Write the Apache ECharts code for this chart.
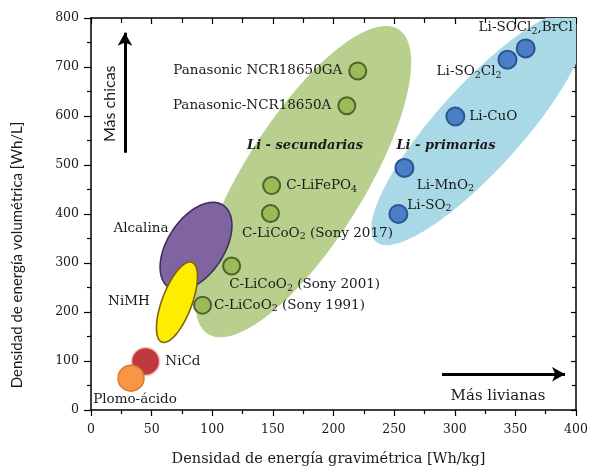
<!DOCTYPE html>
<html>
<head>
<meta charset="utf-8">
<script src="https://cdn.jsdelivr.net/npm/echarts@6/dist/echarts.min.js"></script>
<style>html,body{margin:0;padding:0;background:#fff}#chart{width:592px;height:472px}</style>
</head>
<body>
<div id="chart"></div>
<script>
// ---- data ----
const secNames = ['Panasonic NCR18650GA', 'Panasonic-NCR18650A', 'C-LiFePO{s|4}', 'C-LiCoO{s|2} (Sony 2017)', 'C-LiCoO{s|2} (Sony 2001)', 'C-LiCoO{s|2} (Sony 1991)'];
const secX = [220, 211, 149, 148, 116, 92];
const secY = [692, 621, 458, 401, 294, 214];

const primNames = ['Li-SOCl{s|2},BrCl', 'Li-SO{s|2}Cl{s|2}', 'Li-CuO', 'Li-MnO{s|2}', 'Li-SO{s|2}'];
const primX = [358.5, 343.5, 300.5, 258.5, 253.5];
const primY = [738, 715, 599, 494, 400];

const otherNames = ['NiCd', 'Plomo-ácido'];
const otherX = [45, 33];
const otherY = [99, 65];

// regions (ellipses): centre and tip of long axis in data units, width ratio
const ellipseNames = ['Li - secundarias', 'Li - primarias', 'Alcalina', 'NiMH'];
const ellipseCX = [175, 320, 86.6, 70.9];
const ellipseCY = [466, 576, 334, 220];
const ellipseTipX = [253.5, 405, 108.9, 83.3];
const ellipseTipY = [777, 808.5, 418, 301.4];
const ellipseRatio = [0.335, 0.275, 0.574, 0.35];

// annotation texts (data coords)
const noteTexts = ['Li - secundarias', 'Li - primarias', 'Alcalina', 'NiMH', 'Más chicas', 'Más livianas'];
const noteX = [176.5, 292.8, 41.2, 31.3, 15.7, 335.7];
const noteY = [540, 540, 371, 222, 625, 28.5];

// arrows (data coords): [x1, y1, x2, y2]
const arrowUp = [28, 525, 28, 770];
const arrowRight = [289.5, 73, 391, 73];

const xTicks = [0, 50, 100, 150, 200, 250, 300, 350, 400];
const yTicks = [0, 100, 200, 300, 400, 500, 600, 700, 800];

// ---- styles ----
const SERIF = 'DejaVu Serif';
const SANS = 'Lato';
const ellipseFill = ['#b9cf8e', '#a9d8e6', '#8064a2', '#ffed00'];
const ellipseStroke = [null, null, '#3f3055', '#7f6010'];
const noteFont = [
  'italic bold 13px "' + SERIF + '"',
  'italic bold 13px "' + SERIF + '"',
  '13.5px "' + SERIF + '"',
  '13.5px "' + SERIF + '"',
  '16px ' + SANS,
  '15px "' + SERIF + '"'
];
const noteRot = [0, 0, 0, 0, Math.PI / 2, 0];

const secLabel = [
  {position: 'left', distance: 6},
  {position: 'left', distance: 6},
  {position: 'right', distance: 5},
  {position: 'bottom', distance: 2, offset: [47, 0]},
  {position: 'bottom', distance: 1, offset: [73, 0]},
  {position: 'right', distance: 2}
];
const primLabel = [
  {position: 'top', distance: 2},
  {position: 'left', distance: -4, offset: [0, 12]},
  {position: 'right', distance: 4},
  {position: 'bottom', distance: -1, offset: [41, 0]},
  {position: 'right', distance: -1, offset: [0, -9]}
];
const otherLabel = [
  {position: 'right', distance: 5},
  {position: 'bottom', distance: 1, offset: [4, 0]}
];
const otherFill = ['#c0393f', '#f79646'];
const otherStroke = ['#f4c0c0', '#e2772a'];
const otherSize = [28, 26];

const richSub = {s: {fontSize: 9.5, fontFamily: SERIF, color: '#1a1a1a', padding: [7, 0, 0, 0]}};
const labelBase = {show: true, fontFamily: SERIF, fontSize: 13.5, color: '#1a1a1a', rich: richSub, formatter: p => p.data.name};

function pts(names, xs, ys, labels, extra) {
  return names.map((n, i) => Object.assign({
    name: n, value: [xs[i], ys[i]],
    label: Object.assign({}, labelBase, labels[i])
  }, extra ? extra(i) : {}));
}

const ellipseData = ellipseNames.map((n, i) => ({name: n, value: [ellipseCX[i], ellipseCY[i], ellipseTipX[i], ellipseTipY[i], ellipseRatio[i], i]}));
const noteData = noteTexts.map((t, i) => ({name: t, value: [noteX[i], noteY[i], i]}));

const chart = echarts.init(document.getElementById('chart'), null, {renderer: 'canvas'});

const axisLine = {show: true, onZero: false, lineStyle: {color: '#000', width: 1.5}};
const tickStyle = {color: '#000', width: 1.2};

const option = {
  backgroundColor: '#fff',
  animation: false,
  grid: {left: 91, right: 16, top: 18, bottom: 61},
  xAxis: [
    {
      type: 'value', min: xTicks[0], max: xTicks[xTicks.length - 1], interval: 50, position: 'bottom',
      axisLine: axisLine,
      axisTick: {show: true, inside: false, length: 6, lineStyle: tickStyle},
      minorTick: {show: true, splitNumber: 2, length: 4, lineStyle: tickStyle},
      splitLine: {show: false},
      axisLabel: {fontFamily: SERIF, fontSize: 12.5, color: '#1a1a1a', margin: 13},
      name: 'Densidad de energía gravimétrica [Wh/kg]', nameLocation: 'middle', nameGap: 42,
      nameTextStyle: {fontFamily: SERIF, fontSize: 14.5, color: '#1a1a1a', padding: [0, 10, 0, 0]}
    },
    {
      type: 'value', min: xTicks[0], max: xTicks[xTicks.length - 1], interval: 50, position: 'top',
      axisLine: axisLine,
      axisTick: {show: true, inside: true, length: 6, lineStyle: tickStyle},
      minorTick: {show: true, splitNumber: 2, length: 5, lineStyle: tickStyle},
      splitLine: {show: false}, axisLabel: {show: false}
    }
  ],
  yAxis: [
    {
      type: 'value', min: yTicks[0], max: yTicks[yTicks.length - 1], interval: 100, position: 'left',
      axisLine: axisLine,
      axisTick: {show: true, inside: false, length: 7, lineStyle: tickStyle},
      minorTick: {show: true, splitNumber: 2, length: 4, lineStyle: tickStyle},
      splitLine: {show: false},
      axisLabel: {fontFamily: SERIF, fontSize: 12.5, color: '#1a1a1a', margin: 12}
    },
    {
      type: 'value', min: yTicks[0], max: yTicks[yTicks.length - 1], interval: 100, position: 'right',
      axisLine: axisLine,
      axisTick: {show: true, inside: true, length: 5, lineStyle: tickStyle},
      minorTick: {show: true, splitNumber: 2, length: 4, lineStyle: tickStyle},
      splitLine: {show: false}, axisLabel: {show: false}
    }
  ],
  graphic: [{
    type: 'text', x: 17, y: 255, rotation: Math.PI / 2,
    style: {text: 'Densidad de energía volumétrica [Wh/L]', font: '15px ' + SANS, fill: '#1a1a1a', align: 'center', verticalAlign: 'middle'}
  }],
  series: [
    {
      type: 'custom', name: 'regions', clip: true, z: 1,
      encode: {x: [0, 2], y: [1, 3]},
      data: ellipseData,
      renderItem: function (params, api) {
        const c = api.coord([api.value(0), api.value(1)]);
        const e = api.coord([api.value(2), api.value(3)]);
        const r = api.value(4);
        const idx = api.value(5);
        const dx = e[0] - c[0], dy = e[1] - c[1];
        const points = [];
        for (let k = 0; k < 144; k++) {
          const t = k / 144 * Math.PI * 2;
          const ct = Math.cos(t), st = Math.sin(t);
          points.push([c[0] + ct * dx - st * r * dy, c[1] + ct * dy + st * r * dx]);
        }
        const stroke = ellipseStroke[idx];
        return {
          type: 'polygon', z2: idx,
          shape: {points: points},
          style: {fill: ellipseFill[idx], stroke: stroke || null, lineWidth: stroke ? 1.6 : 0}
        };
      }
    },
    {
      type: 'scatter', name: 'secundarias', z: 5, symbol: 'circle', symbolSize: 17,
      itemStyle: {color: '#9bbb59', borderColor: '#4f6228', borderWidth: 2, opacity: 1},
      data: pts(secNames, secX, secY, secLabel)
    },
    {
      type: 'scatter', name: 'primarias', z: 5, symbol: 'circle', symbolSize: 18,
      itemStyle: {color: '#4a7ec6', borderColor: '#2b5495', borderWidth: 2, opacity: 1},
      data: pts(primNames, primX, primY, primLabel)
    },
    {
      type: 'scatter', name: 'otras', z: 5, symbol: 'circle',
      data: pts(otherNames, otherX, otherY, otherLabel, i => ({
        symbolSize: otherSize[i],
        itemStyle: {color: otherFill[i], borderColor: otherStroke[i], borderWidth: 1.5, opacity: 1}
      })),
      markLine: {
        silent: true, symbol: ['none', 'arrow'], symbolSize: [11, 13], precision: 2,
        label: {show: false},
        lineStyle: {color: '#000', width: 3, type: 'solid'},
        data: [
          [{coord: [arrowUp[0], arrowUp[1]]}, {coord: [arrowUp[2], arrowUp[3]]}],
          [{coord: [arrowRight[0], arrowRight[1]]}, {coord: [arrowRight[2], arrowRight[3]]}]
        ]
      }
    },
    {
      type: 'custom', name: 'notes', clip: false, z: 6,
      encode: {x: 0, y: 1},
      data: noteData,
      renderItem: function (params, api) {
        const p = api.coord([api.value(0), api.value(1)]);
        const idx = api.value(2);
        return {
          type: 'text', x: p[0], y: p[1], rotation: noteRot[idx],
          style: {text: noteTexts[idx], font: noteFont[idx], fill: '#1a1a1a', align: 'center', verticalAlign: 'middle'}
        };
      }
    }
  ]
};
chart.setOption(option);
</script>
</body>
</html>
